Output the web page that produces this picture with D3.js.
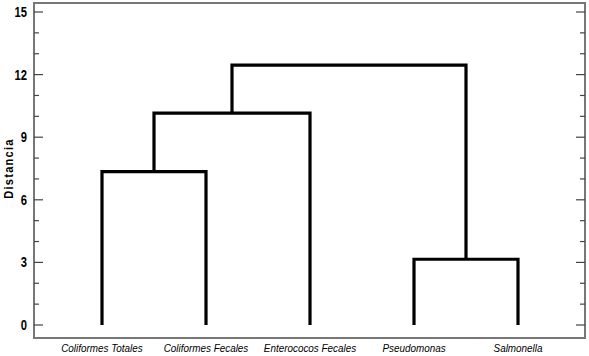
<!DOCTYPE html>
<html lang="es">
  <head>
    <meta charset="UTF-8" />
    <title>Dendrograma</title>
    <script src="https://d3js.org/d3.v7.min.js"></script>
    <style>
      body { margin: 0; background: #fff; }
      svg { display: block; }
      text { font-family: "Liberation Sans", Arial, sans-serif; }
    </style>
  </head>
  <body>
    <script>
      // leaves, left to right
      const leaves = ["Coliformes Totales", "Coliformes Fecales", "Enterococos Fecales", "Pseudomonas", "Salmonella"];
      // merges: left node, right node, height (m0, m1... are earlier merges)
      const mergeLeft = ["Coliformes Totales", "m0", "Pseudomonas", "m1"];
      const mergeRight = ["Coliformes Fecales", "Enterococos Fecales", "Salmonella", "m2"];
      const mergeHeight = [7.35, 10.15, 3.15, 12.45];
      const yTicks = [0, 3, 6, 9, 12, 15];

      const W = 589, H = 356;
      const frame = { left: 34, top: 3, right: 585, bottom: 338 };

      const svg = d3.select("body").append("svg")
        .attr("width", W).attr("height", H);

      const x = d3.scalePoint().domain(leaves).range([102, 518]);
      const y = d3.scaleLinear().domain([0, 15]).range([325, 12]);

      // frame
      svg.append("rect")
        .attr("x", frame.left).attr("y", frame.top)
        .attr("width", frame.right - frame.left)
        .attr("height", frame.bottom - frame.top)
        .attr("fill", "none").attr("stroke", "#777").attr("stroke-width", 2);

      // ticks left and right (major every 3, minor every 1)
      const minor = d3.range(0, 16);
      const tickG = svg.append("g").attr("stroke", "#444").attr("stroke-width", 1.2);
      minor.forEach(v => {
        const len = v % 3 === 0 ? 9 : 5;
        tickG.append("line")
          .attr("x1", frame.left).attr("x2", frame.left + len)
          .attr("y1", y(v)).attr("y2", y(v));
        tickG.append("line")
          .attr("x1", frame.right).attr("x2", frame.right - len)
          .attr("y1", y(v)).attr("y2", y(v));
      });

      // tick labels, narrow bold
      svg.append("g").selectAll("text").data(yTicks).join("text")
        .attr("transform", d => `translate(27,${y(d) + 5}) scale(0.8,1)`)
        .attr("text-anchor", "end")
        .attr("font-size", 14).attr("font-weight", "bold")
        .text(d => d);

      svg.append("text")
        .attr("transform", `translate(13,${(y(15) + y(0)) / 2}) rotate(-90) scale(0.85,1)`)
        .attr("text-anchor", "middle")
        .attr("font-size", 13).attr("font-weight", "bold")
        .attr("letter-spacing", 1.5)
        .text("Distancia");

      // dendrogram links
      const pos = {};
      leaves.forEach(l => { pos[l] = { x: x(l), h: 0 }; });
      const g = svg.append("g").attr("stroke", "#000").attr("stroke-width", 3.2)
        .attr("fill", "none").attr("stroke-linejoin", "miter");
      mergeHeight.forEach((h, i) => {
        const a = pos[mergeLeft[i]], b = pos[mergeRight[i]];
        g.append("path").attr("d",
          `M${a.x},${y(a.h)}V${y(h)}H${b.x}V${y(b.h)}`);
        pos["m" + i] = { x: (a.x + b.x) / 2, h: h };
      });

      // leaf labels
      svg.append("g").selectAll("text").data(leaves).join("text")
        .attr("transform", d => `translate(${x(d)},352) scale(0.9,1)`)
        .attr("text-anchor", "middle")
        .attr("font-size", 11).attr("font-style", "italic")
        .text(d => d);
    </script>
  </body>
</html>
